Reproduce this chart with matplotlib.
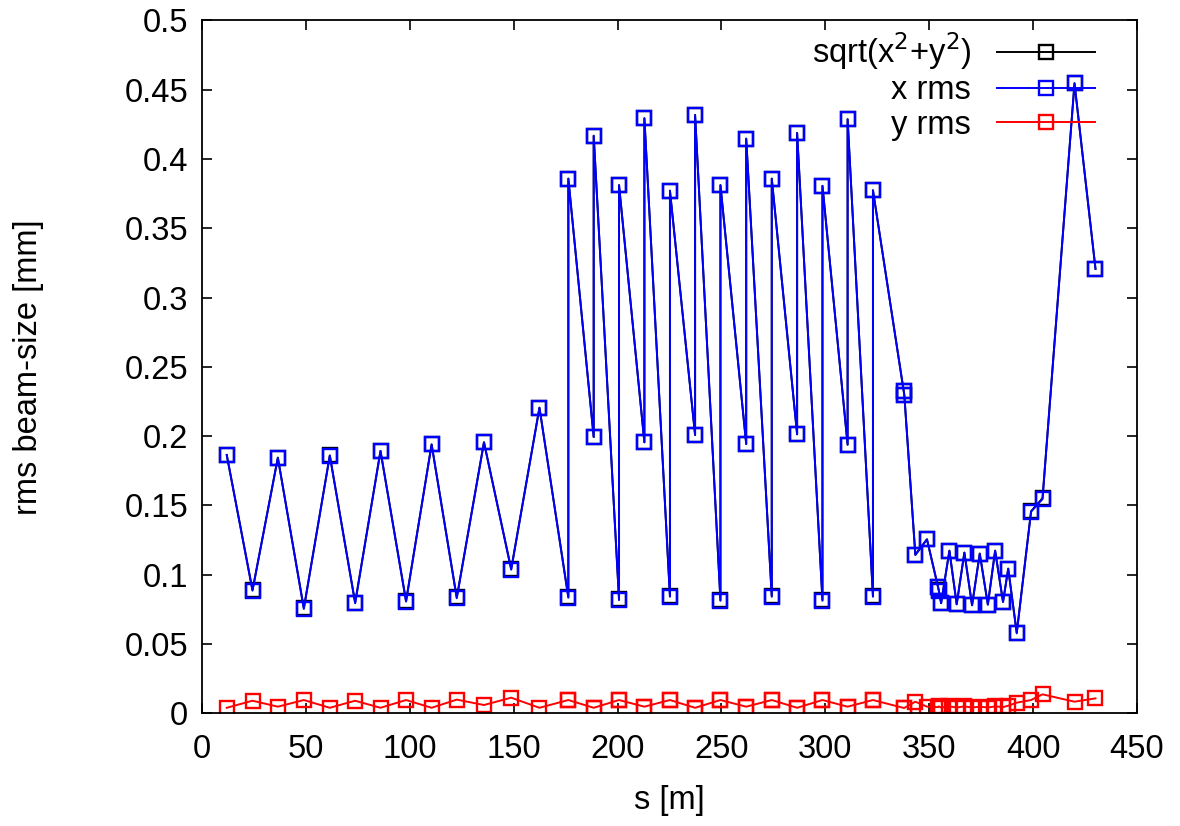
import numpy as np
import matplotlib
matplotlib.use('Agg')
import matplotlib.pyplot as plt
from matplotlib.ticker import FuncFormatter

plt.rcParams['font.family'] = ['Liberation Sans', 'DejaVu Sans']

# positions along the beamline [m]
s = [11.9, 24.3, 36.5, 49.0, 61.5, 73.7, 85.9, 98.2, 110.5, 122.6, 135.7, 148.8, 162.4,
     176.3, 176.3, 188.5, 188.5, 200.7, 200.7, 212.9, 212.9, 225.2, 225.2, 237.3, 237.3,
     249.5, 249.5, 261.9, 261.9, 274.2, 274.2, 286.4, 286.4, 298.6, 298.6, 310.7, 310.7,
     322.9, 322.9,
     337.7, 338.0, 343.3, 348.9, 354.2, 354.6, 355.7, 359.7, 363.2, 366.9, 370.6, 374.3,
     378.2, 381.7, 385.5, 388.0, 392.1, 399.0, 404.5, 419.9, 430.0]

x_rms = [0.1864, 0.0885, 0.1844, 0.0753, 0.186, 0.0794, 0.1893, 0.0806, 0.194, 0.083, 0.1955, 0.1036, 0.2205,
         0.0834, 0.3857, 0.1993, 0.4167, 0.0817, 0.381, 0.1955, 0.4293, 0.0841, 0.377, 0.2008, 0.4317,
         0.0812, 0.381, 0.1943, 0.4146, 0.0841, 0.3857, 0.2013, 0.4187, 0.0812, 0.3805, 0.1938, 0.4286,
         0.0841, 0.3773,
         0.2325, 0.2295, 0.1142, 0.1255, 0.0912, 0.0885, 0.0794, 0.1173, 0.0786, 0.1159, 0.0779, 0.1152,
         0.0784, 0.1173, 0.0803, 0.1043, 0.0577, 0.1455, 0.1546, 0.4545, 0.3206]

y_rms = [0.004, 0.0091, 0.0048, 0.0096, 0.004, 0.0091, 0.004, 0.0096, 0.004, 0.0099, 0.006, 0.0113, 0.004,
         0.0096, 0.0096, 0.004, 0.004, 0.0096, 0.0096, 0.0048, 0.0048, 0.0096, 0.0096, 0.004, 0.004,
         0.0096, 0.0096, 0.0048, 0.0048, 0.0096, 0.0096, 0.004, 0.004, 0.0096, 0.0096, 0.0048, 0.0048,
         0.0096, 0.0096,
         0.0039, 0.0039, 0.0084, 0.0048, 0.0045, 0.005, 0.0042, 0.005, 0.0042, 0.005, 0.0042, 0.0048,
         0.0042, 0.005, 0.0045, 0.0055, 0.0077, 0.0096, 0.0137, 0.0084, 0.0108]

# combined size as in the legend label
r_rms = np.sqrt(np.array(x_rms)**2 + np.array(y_rms)**2)

fig = plt.figure(figsize=(11.8, 8.26), dpi=100)
ax = fig.add_axes([0.1712, 0.1364, 0.7924, 0.839])

style = dict(marker='s', markersize=10, markerfacecolor='none', markeredgewidth=1.7, linewidth=1.4)
ax.plot(s, r_rms, color='black', label='sqrt(x$^2$+y$^2$)', **style)
ax.plot(s, x_rms, color='#0000ff', label='x rms', **style)
ax.plot(s, y_rms, color='#ff0000', label='y rms', **style)

ax.set_xlim(0, 450)
ax.set_ylim(0, 0.5)
ax.set_xticks(np.arange(0, 451, 50))
ax.set_yticks(np.arange(0, 0.501, 0.05))
ax.yaxis.set_major_formatter(FuncFormatter(lambda v, p: '%g' % round(v, 3)))
ax.tick_params(direction='in', length=7, width=1.2, top=True, right=True, labelsize=23.5)
ax.tick_params(axis='x', pad=15)
ax.tick_params(axis='y', pad=10)
for sp in ax.spines.values():
    sp.set_linewidth(1.3)

ax.set_xlabel('s [m]', fontsize=23.5, labelpad=14)
ax.set_ylabel('rms beam-size [mm]', fontsize=23.5, labelpad=58)

ax.legend(loc='upper right', frameon=False, fontsize=23.5, markerfirst=False, numpoints=1,
          handlelength=3.0, labelspacing=0.1, handletextpad=0.8, borderaxespad=0.2,
          bbox_to_anchor=(0.976, 1.014))

fig.savefig('out.png', dpi=100)
